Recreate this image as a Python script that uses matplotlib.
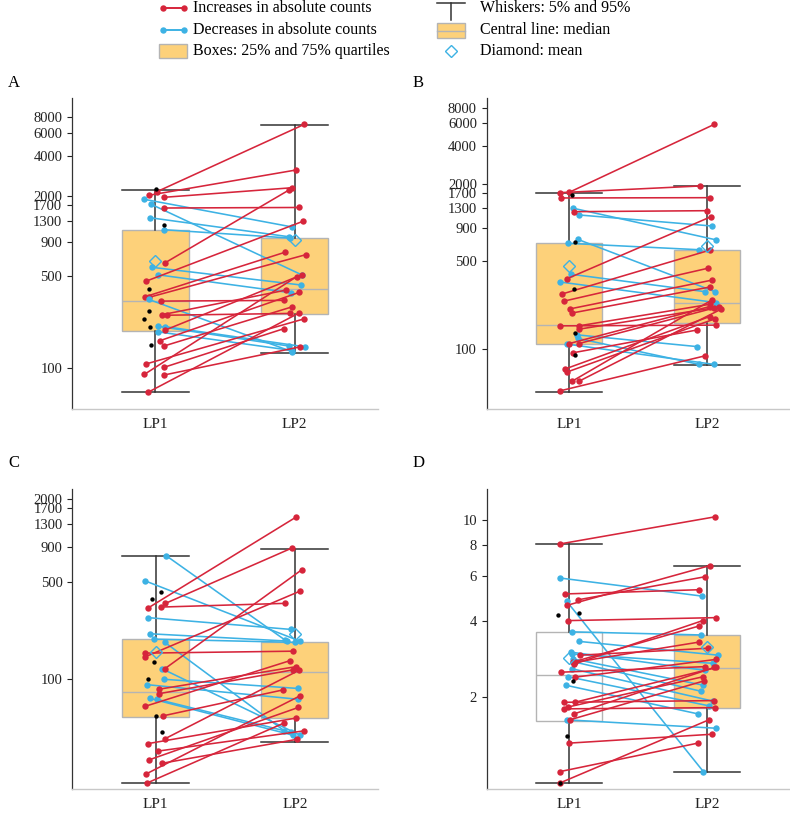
import matplotlib.pyplot as plt
from matplotlib.patches import Rectangle

plt.rcParams['font.family'] = ['Liberation Serif', 'DejaVu Serif']

RED = '#D6253B'
BLUE = '#3DB2E4'
BOX = '#FDD17A'
BOX_EDGE = '#B4B4B4'
WHISK = '#333333'

groups = ['LP1', 'LP2']

# ---- panel A ----
a_lp1 = [2160, 2028, 1958, 1891, 1733, 1625, 1372, 1112, 625, 577, 507, 454, 345, 342, 330,
         320, 252, 250, 206, 205, 187, 193, 160, 146, 107, 101, 89, 88, 65]
a_lp2 = [7000, 3154, 2316, 1166, 507, 1640, 984, 962, 2225, 424, 370, 1288, 750, 719, 132,
         324, 388, 258, 146, 144, 135, 505, 373, 290, 234, 198, 490, 144, 261]
a_only = [2250, 1207, 393, 268, 235, 205, 148]
a_q1 = [190, 255]
a_med = [320, 393]
a_q3 = [1100, 957]
a_lo = [65, 129]
a_hi = [2224, 6884]
a_mean = [647, 929]
a_ticks = [100, 500, 900, 1300, 1700, 2000, 4000, 6000, 8000]

# ---- panel B ----
b_lp1 = [1289, 1142, 683, 735, 390, 339, 130, 122, 110,
         1723, 1711, 1554, 1212, 358, 273, 240, 208, 193, 153, 153, 144, 111, 111, 94, 70, 66, 56, 56, 47]
b_lp2 = [726, 935, 608, 284, 284, 233, 105, 76, 76,
         5910, 1931, 1562, 1234, 1107, 605, 434, 351, 309, 155, 226, 215, 217, 211, 142, 181, 174, 244, 206, 89]
b_only = [1640, 703, 300, 135, 90]
b_q1 = [110, 162]
b_med = [155, 233]
b_q3 = [683, 602]
b_lo = [46, 75]
b_hi = [1711, 1931]
b_mean = [453, 651]
b_ticks = [100, 500, 900, 1300, 1700, 2000, 4000, 6000, 8000]

# ---- panel C ----
c_lp1 = [773, 508, 276, 211, 193, 183, 118, 99, 90.5, 72, 71,
         324, 350, 329, 144, 118, 153, 84, 78, 63, 54, 37, 34, 30, 26, 24.5, 20.5, 17.7]
c_lp2 = [190, 187, 227, 187, 183, 42, 39, 85, 71, 39, 41,
         1471, 879, 350, 430, 612, 158, 122, 116, 135, 83, 115, 52, 42, 62, 36.5, 75, 48]
c_only = [421, 376, 131, 99, 54, 41]
c_q1 = [53, 52]
c_med = [80, 112]
c_q3 = [193, 185]
c_lo = [17.6, 35]
c_hi = [773, 864]
c_mean = [157, 210]
c_ticks = [100, 500, 900, 1300, 1700, 2000]

# ---- panel D ----
d_lp1 = [5.90, 4.78, 3.61, 3.31, 3.00, 2.82, 2.58, 2.22, 1.62, 2.95, 2.75, 2.40,
         8.04, 5.10, 4.83, 4.60, 4.00, 2.92, 2.74, 2.69, 2.74, 2.50, 2.39, 1.90, 1.90, 1.79,
         1.82, 1.71, 1.62, 1.31, 1.01, 0.91]
d_lp2 = [5.00, 1.01, 3.51, 2.92, 2.54, 2.22, 1.92, 1.71, 1.50, 2.71, 2.10, 1.84,
         10.3, 5.30, 5.97, 6.60, 4.11, 3.11, 3.81, 4.00, 3.29, 2.63, 2.81, 1.93, 2.61, 1.81,
         2.40, 2.61, 2.31, 1.42, 1.31, 1.62]
d_only = [4.20, 4.28, 2.31, 1.40, 0.91]
d_q1 = [1.60, 1.80]
d_med = [2.43, 2.59]
d_q3 = [3.62, 3.50]
d_lo = [0.91, 1.01]
d_hi = [8.04, 6.60]
d_mean = [2.84, 3.14]
d_ticks = [2, 4, 6, 8, 10]

# horizontal jitter of the points (in category units)
a_dx1 = [0.01, -0.05, 0.06, -0.08, -0.03, 0.06, -0.04, 0.065, 0.07, -0.025, 0.015, -0.065, -0.075, -0.045,
         -0.05, 0.04, 0.045, 0.08, 0.02, 0.07, 0.02, 0.07, 0.03, 0.06, -0.065, 0.065, -0.08, 0.06, -0.055]
a_dx2 = [0.07, 0.01, -0.015, -0.015, 0.05, 0.03, -0.04, -0.035, -0.04, 0.045, -0.025, 0.06, -0.07, 0.08,
         -0.015, -0.075, -0.06, -0.03, -0.04, 0.075, -0.015, 0.05, 0.035, -0.015, 0.065, -0.075, 0.015, 0.04, 0.035]
a_dxo = [0.005, 0.065, -0.045, -0.05, -0.08, -0.04, -0.035]
b_dx1 = [0.03, 0.07, -0.01, 0.06, 0.01, -0.07, 0.055, 0.06, -0.02,
         0.0, -0.07, -0.06, 0.035, -0.02, -0.05, -0.035, 0.005, 0.02, -0.065, 0.07, 0.07, 0.0, 0.07,
         0.03, -0.03, -0.02, 0.02, 0.07, -0.07]
b_dx2 = [0.07, 0.035, -0.055, 0.06, -0.01, 0.07, -0.07, -0.055, 0.055,
         0.055, -0.05, 0.02, 0.0, 0.03, 0.025, 0.005, 0.04, 0.02, 0.07, 0.02, 0.085, 0.02, 0.05,
         -0.07, 0.02, 0.06, 0.035, 0.1, -0.01]
b_dxo = [0.02, 0.04, 0.035, 0.045, 0.04]
c_dx1 = [0.075, -0.075, -0.055, -0.04, -0.01, 0.065, 0.045, 0.06, -0.06, -0.04, 0.01,
         -0.055, 0.07, 0.035, -0.075, 0.065, -0.08, 0.025, 0.025, -0.08, 0.055, 0.07, -0.055, 0.015,
         -0.045, 0.045, -0.07, -0.06]
c_dx2 = [-0.07, 0.035, -0.03, -0.055, 0.0, -0.075, 0.04, 0.025, 0.025, -0.01, -0.03,
         0.01, -0.02, -0.07, 0.04, 0.05, -0.015, 0.005, -0.01, -0.035, -0.085, 0.03, 0.01, 0.065,
         0.025, 0.015, 0.035, -0.075]
c_dxo = [0.035, -0.025, -0.01, -0.055, 0.0, 0.045]
d_dx1 = [-0.07, -0.02, 0.02, 0.07, 0.015, 0.03, 0.02, -0.025, -0.02, 0.02, 0.03, -0.01,
         -0.07, -0.03, 0.06, -0.015, -0.01, 0.08, 0.025, 0.035, 0.045, -0.06, 0.045, -0.04, 0.04,
         -0.035, -0.01, 0.035, 0.005, 0.0, -0.07, -0.07]
d_dx2 = [-0.035, -0.025, -0.04, 0.08, -0.01, -0.025, 0.045, -0.065, 0.07, 0.045, -0.04, 0.015,
         0.06, -0.055, -0.01, 0.02, 0.07, 0.01, -0.055, -0.03, -0.055, -0.01, 0.07, 0.05, 0.07,
         0.06, -0.025, 0.055, -0.02, 0.035, -0.065, 0.015]
d_dxo = [-0.08, 0.07, 0.03, -0.015, -0.07]

panels = [
    ('A', a_lp1, a_lp2, a_only, a_dx1, a_dx2, a_dxo, a_q1, a_med, a_q3, a_lo, a_hi, a_mean, a_ticks, (48.4, 11030)),
    ('B', b_lp1, b_lp2, b_only, b_dx1, b_dx2, b_dxo, b_q1, b_med, b_q3, b_lo, b_hi, b_mean, b_ticks, (33.7, 9465)),
    ('C', c_lp1, c_lp2, c_only, c_dx1, c_dx2, c_dxo, c_q1, c_med, c_q3, c_lo, c_hi, c_mean, c_ticks, (15.9, 2343)),
    ('D', d_lp1, d_lp2, d_only, d_dx1, d_dx2, d_dxo, d_q1, d_med, d_q3, d_lo, d_hi, d_mean, d_ticks, (0.86, 13.27)),
]

W, H = 790, 827
fig = plt.figure(figsize=(W / 100, H / 100), dpi=100)

rects = {
    'A': [72 / W, 1 - 409.3 / H, 306 / W, 311 / H],
    'B': [486.7 / W, 1 - 409.3 / H, 302.7 / W, 311 / H],
    'C': [72.3 / W, 1 - 789.3 / H, 306 / W, 300.3 / H],
    'D': [486.7 / W, 1 - 789.3 / H, 302.7 / W, 300.3 / H],
}
letter_pos = {'A': (8, 83), 'B': (413, 83), 'C': (8, 463), 'D': (413, 463)}

for (name, lp1, lp2, only, dx1, dx2, dxo, q1, med, q3, lo, hi, mean, ticks, ylim) in panels:
    ax = fig.add_axes(rects[name])
    stats = [dict(med=med[i], q1=q1[i], q3=q3[i], whislo=lo[i], whishi=hi[i], mean=mean[i], fliers=[])
             for i in range(2)]
    bp = ax.bxp(stats, positions=[1, 2], widths=0.48, capwidths=0.48, patch_artist=True,
                showmeans=True, showfliers=False,
                boxprops=dict(facecolor=BOX, edgecolor=BOX_EDGE, linewidth=1.0),
                medianprops=dict(color=BOX_EDGE, linewidth=1.0),
                whiskerprops=dict(color=WHISK, linewidth=1.1),
                capprops=dict(color=WHISK, linewidth=1.1),
                meanprops=dict(marker='D', markerfacecolor='none', markeredgecolor=BLUE,
                               markersize=6, markeredgewidth=1.0))
    for b in bp['boxes']:
        b.set_zorder(1)
    for m in bp['means']:
        m.set_zorder(6)
    if name == 'D':
        bp['boxes'][0].set_facecolor('white')

    for v1, v2, o1, o2 in zip(lp1, lp2, dx1, dx2):
        col = RED if v2 >= v1 else BLUE
        ax.plot([1 + o1, 2 + o2], [v1, v2], color=col, linewidth=1.15, zorder=3,
                marker='o', markersize=4.6, markeredgewidth=0, solid_capstyle='round')
    ax.scatter([1 + o for o in dxo], only, s=10, color='black', zorder=5, linewidths=0)

    ax.set_yscale('log')
    ax.set_ylim(*ylim)
    ax.set_xlim(0.4, 2.6)
    ax.set_yticks(ticks)
    ax.set_yticklabels([str(t) for t in ticks])
    ax.yaxis.set_minor_locator(plt.NullLocator())
    ax.set_xticks([1, 2])
    ax.set_xticklabels(groups)
    ax.tick_params(axis='both', labelsize=10.5, colors='#222222', length=3.5, width=0.8)
    ax.tick_params(axis='x', length=0, pad=6, labelsize=11)
    for s in ['top', 'right']:
        ax.spines[s].set_visible(False)
    ax.spines['left'].set_color('#333333')
    ax.spines['left'].set_linewidth(0.9)
    ax.spines['bottom'].set_color('#C8C8C8')
    ax.spines['bottom'].set_linewidth(1.0)

    lx, ly = letter_pos[name]
    fig.text(lx / W, 1 - ly / H, name, fontsize=12, ha='left', va='center')

# legend drawn in pixel coordinates on an overlay axes
lg = fig.add_axes([0, 1 - 70 / H, 1, 70 / H])
lg.set_xlim(0, W)
lg.set_ylim(70, 0)
lg.axis('off')
rows = [8, 30, 51]
for y, col in zip(rows[:2], [RED, BLUE]):
    lg.plot([163, 184], [y, y], color=col, linewidth=1.4, marker='o', markersize=4.6, markeredgewidth=0)
lg.add_patch(Rectangle((159, 44), 28, 14, facecolor=BOX, edgecolor=BOX_EDGE, linewidth=1))
for y, txt in zip(rows, ['Increases in absolute counts', 'Decreases in absolute counts',
                         'Boxes: 25% and 75% quartiles']):
    lg.text(193, y, txt, fontsize=11.5, va='center', ha='left')
lg.plot([437, 465], [3, 3], color=WHISK, linewidth=1.1)
lg.plot([451, 451], [3, 20], color=WHISK, linewidth=1.1)
lg.add_patch(Rectangle((437, 23), 28, 15, facecolor=BOX, edgecolor=BOX_EDGE, linewidth=1))
lg.plot([437, 465], [30.5, 30.5], color=BOX_EDGE, linewidth=1)
lg.plot([451], [51], marker='D', markerfacecolor='none', markeredgecolor=BLUE, markersize=6,
        markeredgewidth=1.0)
for y, txt in zip(rows, ['Whiskers: 5% and 95%', 'Central line: median', 'Diamond: mean']):
    lg.text(480, y, txt, fontsize=11.5, va='center', ha='left')

fig.savefig('out.png', dpi=100)
